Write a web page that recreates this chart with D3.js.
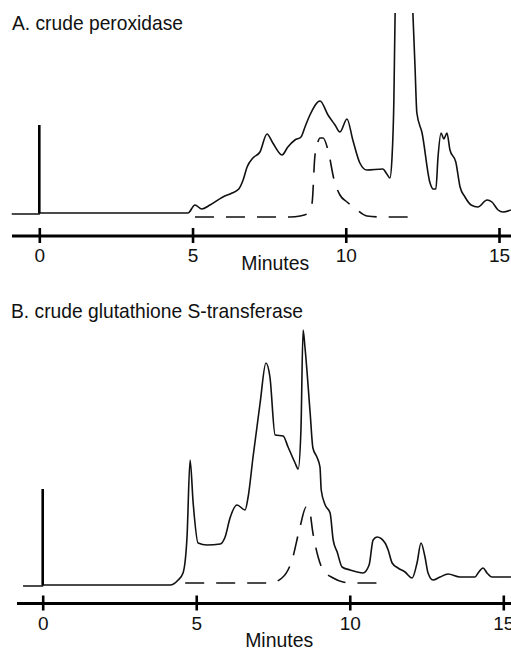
<!DOCTYPE html>
<html>
<head>
<meta charset="utf-8">
<script src="https://cdn.jsdelivr.net/npm/d3@7"></script>
<style>
  body { margin: 0; background: #fff; }
  svg { display: block; }
  text { font-family: "Liberation Sans", Arial, sans-serif; fill: #111; }
</style>
</head>
<body>
<div id="main"></div>
<script>
// panel A: crude peroxidase (time in minutes, detector signal in arbitrary units)
var timeA = [-0.9, 0, 0, 4.85, 5.08, 5.30, 5.57, 5.99, 6.29, 6.51, 6.65, 6.78, 6.97, 7.20, 7.43, 7.62, 7.92, 8.11, 8.34, 8.54, 8.67, 8.83, 9.16, 9.42, 9.65, 9.81, 10.04, 10.23, 10.46, 10.69, 11.21, 11.34, 11.44, 11.51, 11.57, 11.61, 11.9, 12.19, 12.26, 12.32, 12.49, 12.75, 12.85, 12.94, 13.01, 13.11, 13.20, 13.30, 13.40, 13.59, 13.73, 13.89, 14.09, 14.31, 14.61, 14.77, 14.97, 15.13, 15.39];
var signalA = [-1, -1, 0, 0, 8, 4, 8, 16, 20, 24, 33, 46, 55, 61, 79, 70, 58, 66, 73, 76, 86, 98, 112, 98, 88, 81, 94, 73, 50, 43, 44, 39, 35, 56, 113, 200, 420, 200, 146, 100, 80, 30, 24, 24, 56, 80, 74, 80, 63, 51, 26, 16, 8, 6, 13, 11, 3, 1, 3];
var activityTimeA = [5.08, 8.18, 8.51, 8.73, 8.90, 8.99, 9.09, 9.16, 9.26, 9.42, 9.62, 9.81, 10.04, 10.33, 10.69, 11.21, 12.36];
var activityA = [-4, -4, -3, -1, 10, 56, 71, 75, 75, 63, 33, 18, 11, 4, -3, -4, -4];
var injectionA = 88;

// panel B: crude glutathione S-transferase
var timeB = [-0.64, 0, 0, 4.15, 4.41, 4.57, 4.70, 4.80, 4.90, 5.06, 5.35, 5.78, 5.94, 6.10, 6.33, 6.59, 6.69, 6.85, 7.08, 7.27, 7.40, 7.57, 7.83, 7.99, 8.22, 8.32, 8.41, 8.48, 8.54, 8.71, 8.80, 8.93, 9.03, 9.07, 9.20, 9.36, 9.46, 9.59, 9.75, 10.01, 10.43, 10.63, 10.76, 10.89, 11.15, 11.25, 11.38, 11.57, 11.80, 12.03, 12.19, 12.32, 12.45, 12.55, 12.71, 12.94, 13.20, 13.59, 14.08, 14.18, 14.34, 14.47, 14.63, 15.25];
var signalB = [-1, -1, 0, 0, 5, 12, 48, 125, 82, 42, 40, 41, 48, 67, 80, 75, 88, 128, 182, 222, 208, 150, 149, 138, 122, 116, 155, 255, 238, 172, 137, 128, 118, 95, 80, 72, 45, 33, 18, 15, 12, 20, 45, 48, 42, 35, 22, 17, 13, 7, 22, 42, 28, 12, 5, 8, 11, 8, 8, 12, 17, 12, 8, 8];
var activityTimeB = [4.64, 7.40, 7.79, 8.12, 8.38, 8.58, 8.67, 8.80, 8.97, 9.13, 9.46, 9.78, 10.11, 11.15];
var activityB = [2, 2, 7, 25, 58, 78, 77, 52, 28, 15, 7, 3, 2, 2];
var injectionB = 96;

var tickValues = [0, 5, 10, 15];
var xLabel = 'Minutes';

var width = 511, height = 653;

var svg = d3.select('#main').append('svg')
    .attr('width', width)
    .attr('height', height);

// squeeze a text into a given width (the original uses a condensed face)
var condense = function(sel, len) {
    sel.attr('textLength', len).attr('lengthAdjust', 'spacingAndGlyphs');
};

var drawPanel = function(opts) {
    var x = d3.scaleLinear().domain([0, 15]).range([opts.x0, opts.x15]);
    var y = d3.scaleLinear().domain([0, 200]).range([opts.base, opts.base - 200]);

    var g = svg.append('g');

    g.append('clipPath').attr('id', opts.id + 'clip')
        .append('rect')
        .attr('x', 0).attr('y', opts.clipTop)
        .attr('width', width).attr('height', opts.base - opts.clipTop + 20);

    g.append('text')
        .attr('x', opts.titleX).attr('y', opts.titleY)
        .style('font-size', '21px')
        .text(opts.title)
        .call(condense, opts.titleWidth);

    var line = d3.line()
        .x(function(d) { return x(d[0]); })
        .y(function(d) { return y(d[1]); })
        .curve(d3.curveMonotoneX);

    var trace = d3.zip(opts.time, opts.signal);
    var activity = d3.zip(opts.actTime, opts.act);

    g.append('path')
        .datum(activity)
        .attr('d', line)
        .attr('clip-path', 'url(#' + opts.id + 'clip)')
        .style('fill', 'none')
        .style('stroke', '#111')
        .style('stroke-width', 1.6)
        .style('stroke-dasharray', '19,12');

    g.append('path')
        .datum(trace)
        .attr('d', line)
        .attr('clip-path', 'url(#' + opts.id + 'clip)')
        .style('fill', 'none')
        .style('stroke', '#111')
        .style('stroke-width', 1.6)
        .style('stroke-linejoin', 'round');

    // injection marker
    g.append('line')
        .attr('x1', x(0)).attr('x2', x(0))
        .attr('y1', y(0)).attr('y2', y(opts.injection))
        .style('stroke', '#000')
        .style('stroke-width', 2.6);

    var xAxis = d3.axisBottom(x)
        .tickValues(tickValues)
        .tickFormat(d3.format('d'))
        .tickSize(7)
        .tickPadding(6);

    var ax = g.append('g')
        .attr('transform', 'translate(0,' + opts.axisY + ')')
        .call(xAxis);
    ax.select('.domain').remove();
    ax.selectAll('.tick line')
        .attr('y1', -8).attr('y2', 7)
        .style('stroke', '#000')
        .style('stroke-width', 2.6);
    ax.selectAll('.tick text')
        .style('font-family', '"Liberation Sans", Arial, sans-serif')
        .style('font-size', '19px')
        .style('fill', '#111');
    ax.append('line')
        .attr('x1', opts.axisStart).attr('x2', width)
        .attr('y1', 0).attr('y2', 0)
        .style('stroke', '#000')
        .style('stroke-width', 2.8);

    g.append('text')
        .attr('x', x(7.7) - 34).attr('y', opts.labelY)
        .style('font-size', '20px')
        .text(xLabel)
        .call(condense, 68);
};

drawPanel({
    id: 'a', title: 'A. crude peroxidase', titleX: 12, titleY: 30, titleWidth: 171,
    time: timeA, signal: signalA, actTime: activityTimeA, act: activityA,
    injection: injectionA,
    x0: 39.3, x15: 499, base: 213, clipTop: 13,
    axisY: 236, axisStart: 12, labelY: 270
});

drawPanel({
    id: 'b', title: 'B. crude glutathione S-transferase', titleX: 11, titleY: 318, titleWidth: 292,
    time: timeB, signal: signalB, actTime: activityTimeB, act: activityB,
    injection: injectionB,
    x0: 42.7, x15: 503.3, base: 585, clipTop: 320,
    axisY: 603.5, axisStart: 17, labelY: 647
});
</script>
</body>
</html>
